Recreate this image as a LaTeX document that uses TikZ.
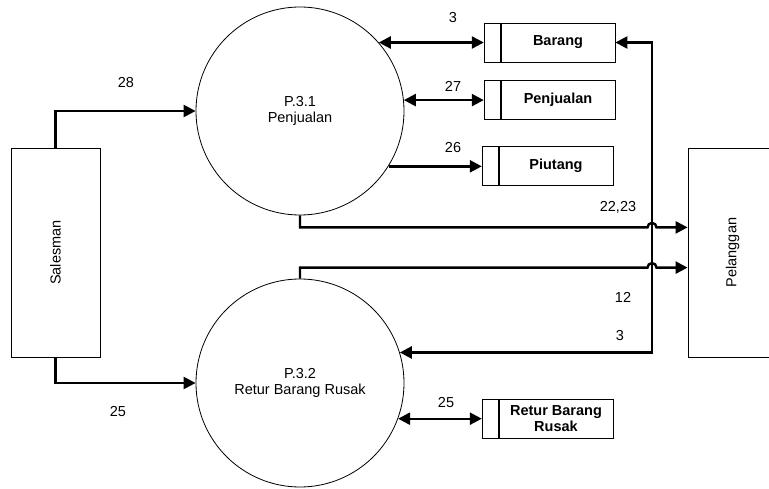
\documentclass[tikz,border=0pt]{standalone}
\usepackage{fontspec}
\setmainfont{Liberation Sans}
\usetikzlibrary{arrows.meta, positioning, shapes}
\tikzset{>={Triangle[length=12pt,width=12pt]}}

\begin{document}
\begin{tikzpicture}[x=1pt,y=1pt,font=\fontsize{14.5}{16}\selectfont,
		process/.style={circle,draw,line width=0.8pt,minimum size=208pt,inner sep=0pt,align=center},
		entity/.style={rectangle,draw,line width=0.8pt,minimum width=89pt,minimum height=209pt},
		store/.style={rectangle,draw,line width=0.8pt,minimum width=114pt,minimum height=39pt,inner sep=0pt,align=center,font=\fontsize{14.5}{16}\selectfont\bfseries},
		cell/.style={rectangle,draw,line width=0.8pt,minimum width=16pt,minimum height=39pt,inner sep=0pt},
		flow/.style={line width=2.4pt}]
		\clip (0,0) rectangle (769,488);
		\begin{scope}
		\node[process] (p31) at (300,377) {P.3.1\\Penjualan};
		\node[process] (p32) at (300,105) {P.3.2\\Retur Barang Rusak};
		\node[entity] (sales) at (55.5,235.5) {\rotatebox{90}{Salesman}};
		\node[entity] (pel) at (732.5,235.5) {\rotatebox{90}{Pelanggan}};
		\node[store] (brg) at (558,445.5) {Barang};
		\node[store] (pjl) at (558,388) {Penjualan};
		\node[store] (ptg) at (556,322.5) {Piutang};
		\node[store] (rtr) at (556,69.5) {Retur Barang\\Rusak};
		\foreach\s in {brg,pjl,ptg,rtr}
			\node[cell, left=0pt of \s] (\s-l) {};
		\end{scope}
		\coordinate (bus) at (652,0);
		\draw[flow,->] (sales.north) |- (p31.west);
		\draw[flow,->] (sales.south) |- (p32.west);
		\draw[flow,<->] (p31.41) -- (p31.41 -| brg-l.west);
		\draw[flow,<->] (p31.6) -- (p31.6 -| pjl-l.west);
		\draw[flow,->] (p31.-32) -- (p31.-32 -| ptg-l.west);
		\draw[flow,<->] (p32.-20) -- (p32.-20 -| rtr-l.west);
		\draw[flow,<->] (p32.17) -- (p32.17 -| bus) |- (brg.east);
		\draw[flow,->] (p31.south) -- ++(0,-12) coordinate (k1)
			-- ([xshift=-4.5pt]k1 -| bus) arc[start angle=180,end angle=0,radius=4.5pt]
			-- (k1 -| pel.west);
		\draw[flow,->] (p32.north) -- ++(0,11) coordinate (k2)
			-- ([xshift=-4.5pt]k2 -| bus) arc[start angle=180,end angle=0,radius=4.5pt]
			-- (k2 -| pel.west);
		\node (lbl28)   at (126,405) {28};
		\node (lbl25a)  at (118,76)  {25};
		\node (lbl3a)   at (453,470) {3};
		\node (lbl27)   at (453,402) {27};
		\node (lbl26)   at (453,340) {26};
		\node (lbl2223) at (618,281) {22,23};
		\node (lbl12)   at (623,191) {12};
		\node (lbl3b)   at (620,152) {3};
		\node (lbl25b)  at (446,85)  {25};
	\end{tikzpicture}
\end{document}
